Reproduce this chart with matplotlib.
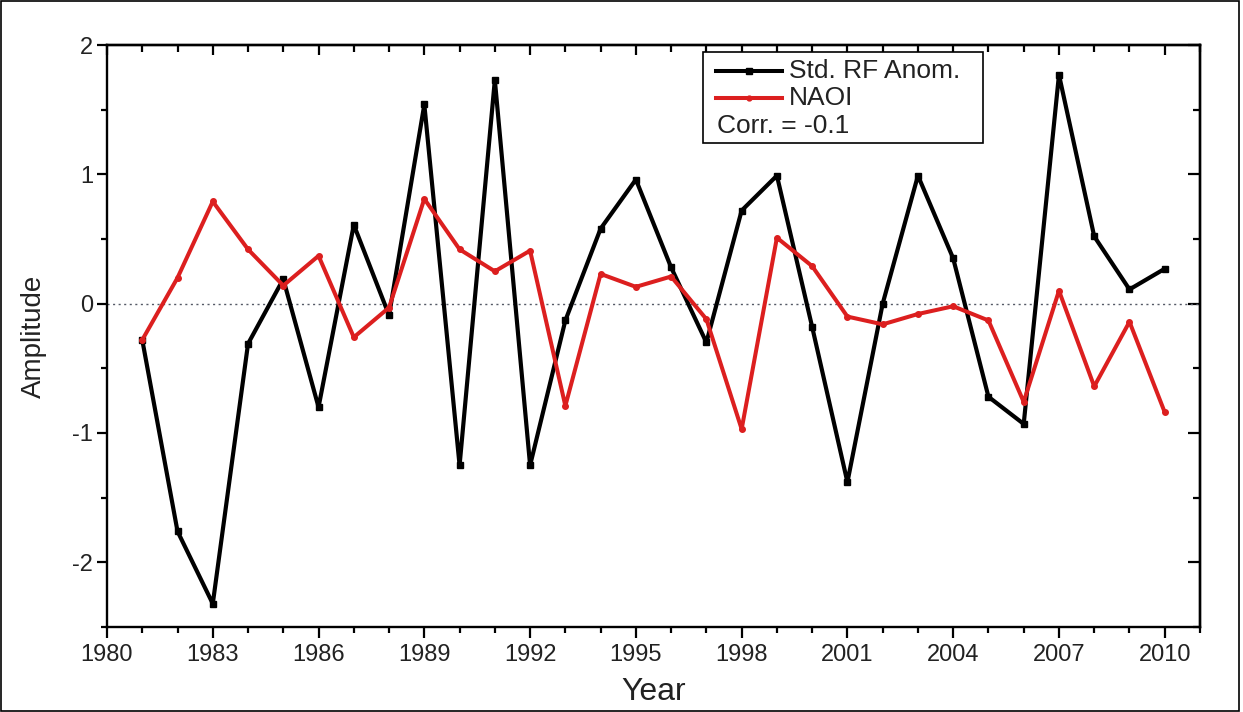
import matplotlib
matplotlib.use("Agg")
import matplotlib.pyplot as plt
from matplotlib.ticker import MultipleLocator
from matplotlib.patches import Rectangle

plt.rcParams['font.family'] = ['Liberation Sans', 'DejaVu Sans']
plt.rcParams['axes.unicode_minus'] = False

years = list(range(1981, 2011))
std_rf_anom = [-0.28, -1.76, -2.32, -0.31, 0.19, -0.80, 0.61, -0.09, 1.54, -1.25,
               1.73, -1.25, -0.13, 0.58, 0.96, 0.28, -0.30, 0.72, 0.99, -0.18,
               -1.38, 0.00, 0.99, 0.35, -0.72, -0.93, 1.77, 0.52, 0.11, 0.27]
naoi = [-0.28, 0.20, 0.79, 0.42, 0.14, 0.37, -0.26, -0.03, 0.81, 0.42,
        0.25, 0.41, -0.79, 0.23, 0.13, 0.21, -0.12, -0.97, 0.51, 0.29,
        -0.10, -0.16, -0.08, -0.02, -0.13, -0.76, 0.10, -0.64, -0.14, -0.84]
series_labels = ["Std. RF Anom.", "NAOI"]
corr_text = "Corr. = -0.1"
xticks = list(range(1980, 2011, 3))

W, H = 1243, 712
fig = plt.figure(figsize=(W / 100, H / 100), dpi=100)
L, R, T, B = 107, 1200, 45, 627
ax = fig.add_axes([L / W, 1 - B / H, (R - L) / W, (B - T) / H])

ax.axhline(0, color='#555a66', lw=1.0, ls=(0, (1.5, 2.5)), zorder=1)

ax.plot(years, std_rf_anom, color='black', lw=3.0, marker='s', ms=5,
        zorder=3, label=series_labels[0])
ax.plot(years, naoi, color='#dc1f1f', lw=2.9, marker='o', ms=4,
        zorder=4, label=series_labels[1])

ax.set_xlim(1980, 2011)
ax.set_ylim(-2.5, 2)
ax.set_xticks(xticks)
ax.xaxis.set_minor_locator(MultipleLocator(1))
ax.yaxis.set_major_locator(MultipleLocator(1))
ax.yaxis.set_minor_locator(MultipleLocator(0.5))

for s in ax.spines.values():
    s.set_linewidth(1.7)

ax.tick_params(axis='x', which='major', direction='out', length=8, width=1.6,
               labelsize=17, pad=4, colors='black', labelcolor='#222222')
ax.tick_params(axis='x', which='minor', direction='out', length=4.5, width=1.6)
ax.tick_params(axis='y', which='major', direction='out', length=7, width=1.6,
               labelsize=17, pad=3, labelcolor='#222222')
ax.tick_params(axis='y', which='minor', direction='out', length=4, width=1.6)

# mirrored inward ticks on top and right
secx = ax.secondary_xaxis('top')
secx.set_xticks(xticks)
secx.xaxis.set_minor_locator(MultipleLocator(1))
secx.tick_params(which='major', direction='in', length=7, width=1.6, labeltop=False)
secx.tick_params(which='minor', direction='in', length=5, width=1.6)
secy = ax.secondary_yaxis('right')
secy.yaxis.set_major_locator(MultipleLocator(1))
secy.yaxis.set_minor_locator(MultipleLocator(0.5))
secy.tick_params(which='major', direction='in', length=9, width=1.6, labelright=False)
secy.tick_params(which='minor', direction='in', length=5, width=1.6)
for sa in (secx, secy):
    for s in sa.spines.values():
        s.set_linewidth(1.7)

ax.set_xlabel("Year", fontsize=23, labelpad=8, color='#222222')
ax.set_ylabel("Amplitude", fontsize=20, labelpad=18, color='#222222')

# Legend box (manual, to place the correlation line under the handles)
def px2ax(x, y):
    return (x - L) / (R - L), 1 - (y - T) / (B - T)

x0, y0 = px2ax(703, 143)
x1, y1 = px2ax(983, 52)
ax.add_patch(Rectangle((x0, y0), x1 - x0, y1 - y0, transform=ax.transAxes,
                       fill=True, facecolor='white', edgecolor='black',
                       lw=1.2, zorder=5, clip_on=False))
rows = [(71, 'black', 's', 4.0), (98, '#dc1f1f', 'o', 3.5)]
for (yy, c, m, ms), lab in zip(rows, series_labels):
    ha, ya = px2ax(716, yy)
    hb, _ = px2ax(782, yy)
    hm, _ = px2ax(749, yy)
    ax.plot([ha, hb], [ya, ya], color=c, lw=2.9, transform=ax.transAxes,
            zorder=6, clip_on=False)
    ax.plot([hm], [ya], color=c, marker=m, ms=ms, transform=ax.transAxes,
            zorder=6, clip_on=False)
    tx, _ = px2ax(789, yy)
    ax.text(tx, ya, lab, transform=ax.transAxes, fontsize=19, va='center',
            ha='left', zorder=7, color='#222222')
cx, cy = px2ax(717, 126)
ax.text(cx, cy, corr_text, transform=ax.transAxes, fontsize=19, va='center',
        ha='left', zorder=7, color='#222222')

# figure border
fig.add_artist(Rectangle((0.001, 0.001), 0.996, 0.997, transform=fig.transFigure,
                         fill=False, edgecolor='black', lw=1.2))

fig.savefig("out.png", dpi=100)
